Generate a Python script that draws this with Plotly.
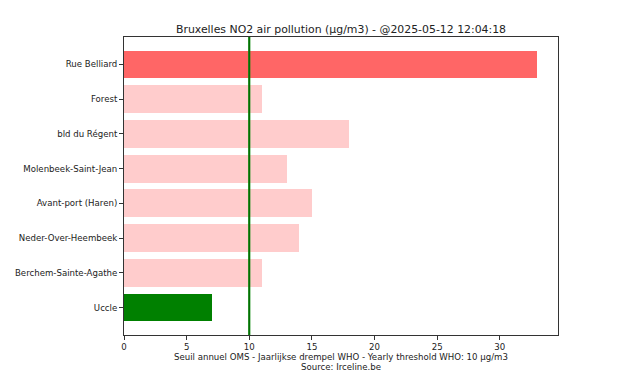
import plotly.graph_objects as go

stations = ["Uccle", "Berchem-Sainte-Agathe", "Neder-Over-Heembeek", "Avant-port (Haren)",
            "Molenbeek-Saint-Jean", "bld du Régent", "Forest", "Rue Belliard"]
values = [7, 11, 14, 15, 13, 18, 11, 33]
colors = ["#008000", "#ffcccc", "#ffcccc", "#ffcccc", "#ffcccc", "#ffcccc", "#ffcccc", "#ff6666"]
threshold = 10
title = "Bruxelles NO2 air pollution (µg/m3) - @2025-05-12 12:04:18"
xlabel_lines = ["Seuil annuel OMS - Jaarlijkse drempel WHO - Yearly threshold WHO: 10 µg/m3",
                "Source: Irceline.be"]

W, H = 620, 372
L, R, T, B = 124, 558, 37, 335
TXT = "#222222"

fig = go.Figure()
fig.add_trace(go.Bar(
    x=values, y=list(range(len(stations))), orientation="h",
    marker=dict(color=colors, line=dict(width=0)), width=0.8,
    showlegend=False, hoverinfo="x+text", text=stations, textposition="none"))

fig.add_shape(type="line", xref="x", yref="paper", x0=threshold, x1=threshold, y0=0, y1=1,
              line=dict(color="#0c8a0c", width=2.2))
fig.add_shape(type="line", xref="x", yref="paper", x0=threshold, x1=threshold, y0=0, y1=1,
              line=dict(color="#035a03", width=0.8))

font = dict(family="DejaVu Sans", size=8.6, color=TXT)
for line, ypix in zip(xlabel_lines, [356.5, 366.5]):
    fig.add_annotation(text=line, xref="paper", yref="paper",
                       x=0.5, y=(B - ypix) / (B - T),
                       xanchor="center", yanchor="middle", showarrow=False, font=font)

xmax = max(values) * 1.05
fig.update_layout(
    width=W, height=H,
    margin=dict(l=L, r=W - R, t=T, b=H - B, autoexpand=False),
    paper_bgcolor="white", plot_bgcolor="white",
    font=font,
    bargap=0,
    title=dict(text=title, x=(L + R) / 2 / W, xanchor="center", y=1 - 29 / H, yanchor="middle",
               font=dict(family="DejaVu Sans", size=10.9, color=TXT)),
    xaxis=dict(range=[0, xmax], tickvals=[0, 5, 10, 15, 20, 25, 30], ticks="outside",
               ticklen=4, tickcolor="#333333", showgrid=False, zeroline=False, automargin=False,
               showline=True, linecolor="#333333", linewidth=1, mirror=True, tickfont=font),
    yaxis=dict(range=[-0.79, 7.79], tickvals=list(range(len(stations))), ticktext=stations,
               ticks="outside", ticklen=4, tickcolor="#333333", showgrid=False, zeroline=False,
               automargin=False, tickfont=font,
               showline=True, linecolor="#333333", linewidth=1, mirror=True),
)
fig.write_html("out.html")
